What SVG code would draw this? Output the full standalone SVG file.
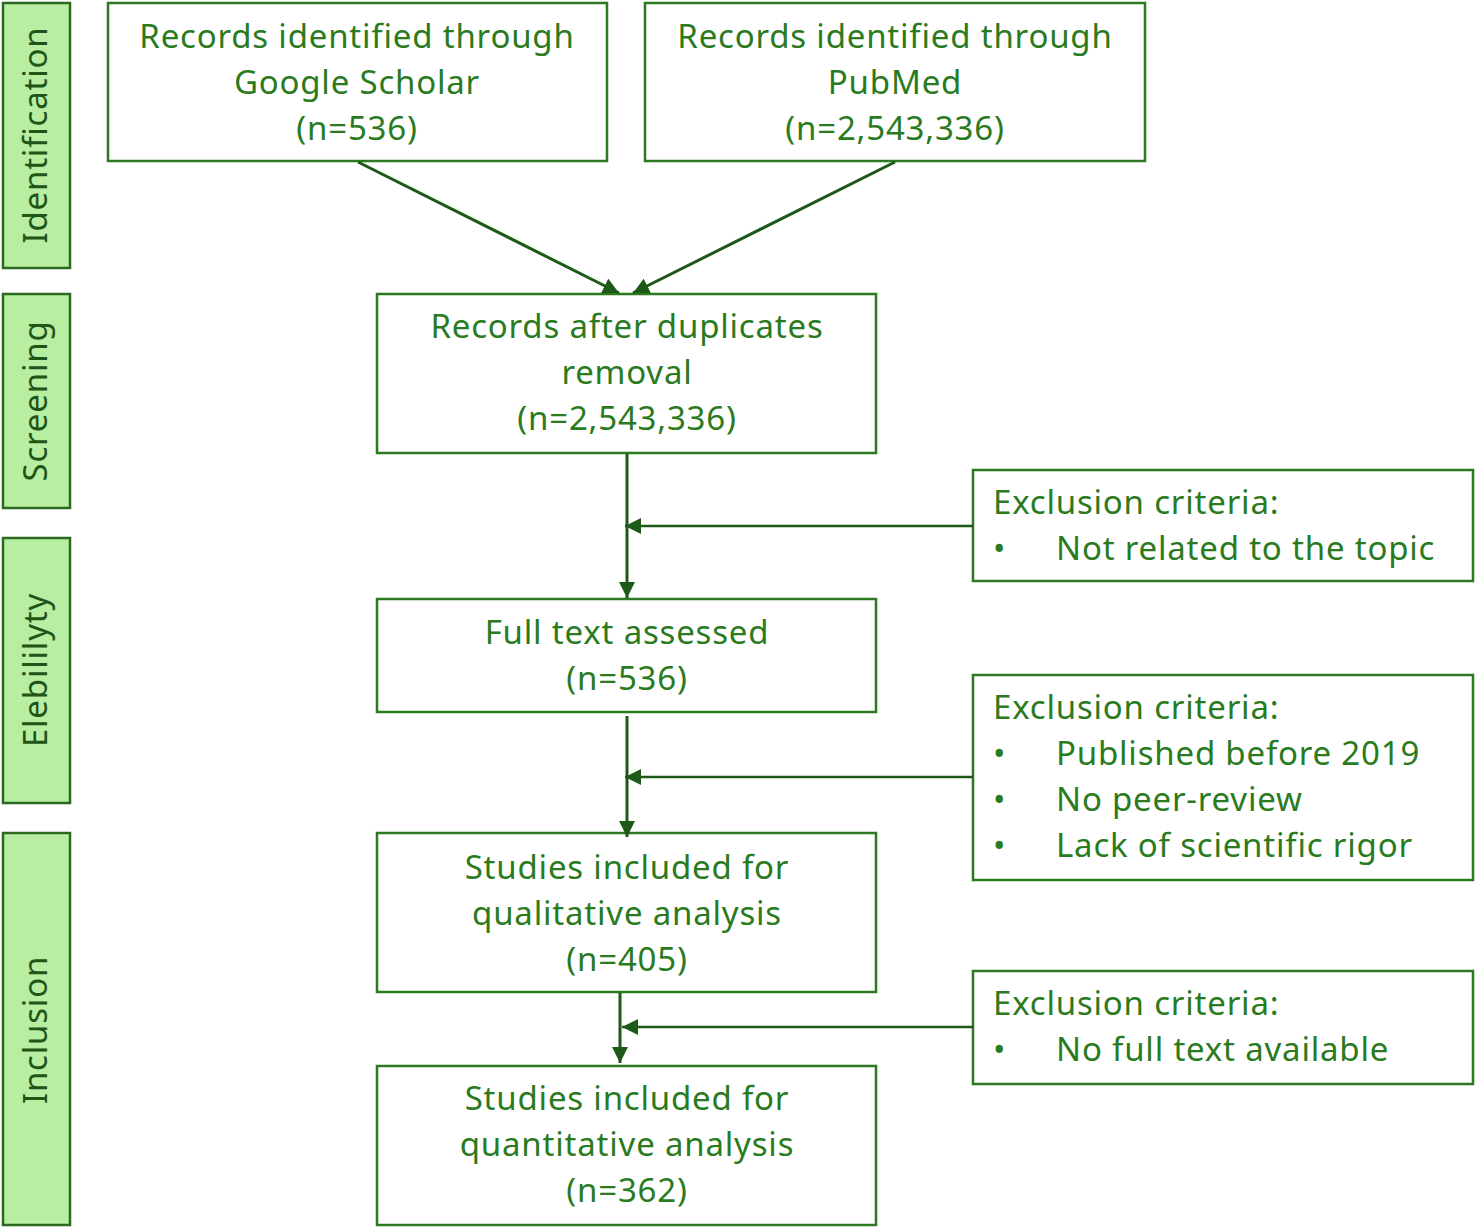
<svg xmlns="http://www.w3.org/2000/svg" width="1476" height="1229" viewBox="0 0 1476 1229">
<defs>
<style>
.box{fill:#fff;stroke:#2b7a1f;stroke-width:2.5}
.band{fill:#b8eea2;stroke:#2b6a1f;stroke-width:2.5}
.t{font-family:"Noto Sans","Liberation Sans",sans-serif;font-size:33px;letter-spacing:0.8px;fill:#2a7a1e;text-anchor:middle}
.l{font-family:"Noto Sans","Liberation Sans",sans-serif;font-size:33px;letter-spacing:0.8px;fill:#2a7a1e}
.s{font-family:"Noto Sans","Liberation Sans",sans-serif;font-size:33px;letter-spacing:0.8px;fill:#1f5516;text-anchor:middle}
.c{stroke:#1e5a17;stroke-width:3;fill:none}
</style>
<marker id="ah" viewBox="0 0 10 10" refX="10" refY="5" markerWidth="16" markerHeight="16" orient="auto" markerUnits="userSpaceOnUse">
<path d="M0,0 L10,5 L0,10 z" fill="#1e5a17"/>
</marker>
</defs>
<g id="band-identification"><rect class="band" x="3" y="3" width="67" height="265"/><text class="s" transform="translate(47,135) rotate(-90)">Identification</text></g>
<g id="band-screening"><rect class="band" x="3" y="294" width="67" height="214"/><text class="s" transform="translate(47,401) rotate(-90)">Screening</text></g>
<g id="band-eligibility"><rect class="band" x="3" y="538" width="67" height="265"/><text class="s" transform="translate(47,670) rotate(-90)">Elebililyty</text></g>
<g id="band-inclusion"><rect class="band" x="3" y="833" width="67" height="392"/><text class="s" transform="translate(47,1030) rotate(-90)">Inclusion</text></g>

<g id="scholar"><rect class="box" x="108" y="3" width="499" height="158"/>
<text class="t" x="357" y="48">Records identified through</text>
<text class="t" x="357" y="94">Google Scholar</text>
<text class="t" x="357" y="140">(n=536)</text></g>
<g id="pubmed"><rect class="box" x="645" y="3" width="500" height="158"/>
<text class="t" x="895" y="48">Records identified through</text>
<text class="t" x="895" y="94">PubMed</text>
<text class="t" x="895" y="140">(n=2,543,336)</text></g>
<g id="dedup"><rect class="box" x="377" y="294" width="499" height="159"/>
<text class="t" x="627" y="338">Records after duplicates</text>
<text class="t" x="627" y="384">removal</text>
<text class="t" x="627" y="430">(n=2,543,336)</text></g>
<g id="fulltext"><rect class="box" x="377" y="599" width="499" height="113"/>
<text class="t" x="627" y="644">Full text assessed</text>
<text class="t" x="627" y="690">(n=536)</text></g>
<g id="qualitative"><rect class="box" x="377" y="833" width="499" height="159"/>
<text class="t" x="627" y="879">Studies included for</text>
<text class="t" x="627" y="925">qualitative analysis</text>
<text class="t" x="627" y="971">(n=405)</text></g>
<g id="quantitative"><rect class="box" x="377" y="1066" width="499" height="159"/>
<text class="t" x="627" y="1110">Studies included for</text>
<text class="t" x="627" y="1156">quantitative analysis</text>
<text class="t" x="627" y="1202">(n=362)</text></g>
<g id="excl1"><rect class="box" x="973" y="470" width="500" height="111"/>
<text class="l" x="993" y="514">Exclusion criteria:</text>
<text class="l" x="993" y="560">•</text><text class="l" x="1056" y="560">Not related to the topic</text></g>
<g id="excl2"><rect class="box" x="973" y="675" width="500" height="205"/>
<text class="l" x="993" y="719">Exclusion criteria:</text>
<text class="l" x="993" y="765">•</text><text class="l" x="1056" y="765">Published before 2019</text>
<text class="l" x="993" y="811">•</text><text class="l" x="1056" y="811">No peer-review</text>
<text class="l" x="993" y="857">•</text><text class="l" x="1056" y="857">Lack of scientific rigor</text></g>
<g id="excl3"><rect class="box" x="973" y="971" width="500" height="113"/>
<text class="l" x="993" y="1015">Exclusion criteria:</text>
<text class="l" x="993" y="1061">•</text><text class="l" x="1056" y="1061">No full text available</text></g>

<g id="connectors">
<line class="c" x1="358" y1="162" x2="619" y2="293" marker-end="url(#ah)"/>
<line class="c" x1="895" y1="162" x2="633" y2="293" marker-end="url(#ah)"/>
<line class="c" x1="627" y1="454" x2="627" y2="598" marker-end="url(#ah)"/>
<line class="c" x1="973" y1="526" x2="625" y2="526" marker-end="url(#ah)" style="stroke-width:2.5"/>
<line class="c" x1="627" y1="716" x2="627" y2="837" marker-end="url(#ah)"/>
<line class="c" x1="973" y1="777" x2="625" y2="777" marker-end="url(#ah)" style="stroke-width:2.5"/>
<line class="c" x1="620" y1="993" x2="620" y2="1063" marker-end="url(#ah)"/>
<line class="c" x1="973" y1="1027" x2="622" y2="1027" marker-end="url(#ah)" style="stroke-width:2.5"/>
</g>
</svg>
